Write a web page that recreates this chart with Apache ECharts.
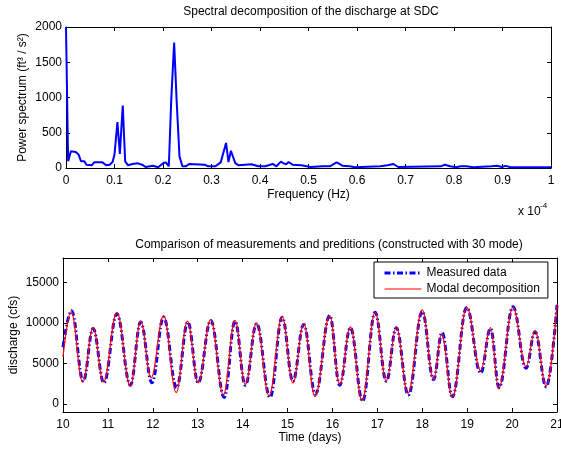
<!DOCTYPE html>
<html><head><meta charset="utf-8">
<script src="https://cdn.jsdelivr.net/npm/echarts@6/dist/echarts.min.js"></script>
<style>html,body{margin:0;padding:0;background:#fff}#c{width:561px;height:452px}</style>
</head><body><div id="c"></div>
<script>
const FONT = "'Liberation Sans', Arial, Helvetica, sans-serif";

// ---- Top panel: power spectrum ----
const freq = [0, 0.0044, 0.010, 0.020, 0.026, 0.031, 0.035, 0.038, 0.042, 0.053, 0.058, 0.075, 0.083, 0.090, 0.096, 0.100, 0.106, 0.111, 0.117, 0.122, 0.128, 0.137, 0.148, 0.157, 0.164, 0.179, 0.190, 0.201, 0.206, 0.212, 0.217, 0.223, 0.228, 0.234, 0.240, 0.247, 0.254, 0.286, 0.293, 0.308, 0.319, 0.330, 0.335, 0.340, 0.349, 0.356, 0.382, 0.397, 0.411, 0.426, 0.434, 0.443, 0.448, 0.454, 0.459, 0.467, 0.485, 0.504, 0.530, 0.544, 0.558, 0.570, 0.585, 0.596, 0.648, 0.663, 0.675, 0.685, 0.773, 0.781, 0.792, 0.804, 0.814, 0.825, 0.840, 0.877, 0.888, 0.899, 0.906, 0.917, 1.0];
const power = [2000, 95, 236, 227, 190, 95, 70, 95, 47, 38, 80, 80, 38, 47, 85, 190, 650, 200, 885, 95, 38, 57, 66, 47, 14, 33, 10, 70, 80, 24, 970, 1780, 970, 165, 24, 24, 57, 47, 24, 24, 80, 355, 85, 245, 70, 38, 52, 24, 24, 57, 24, 90, 70, 52, 85, 47, 38, 14, 24, 24, 80, 33, 24, 10, 24, 38, 57, 14, 24, 47, 24, 10, 24, 24, 10, 24, 33, 14, 30, 10, 10];
const freqTickStep = 0.1;
const powerTickStep = 500;

// ---- Bottom panel: discharge ----
const modalDays = [10.00, 10.18, 10.44, 10.67, 10.90, 11.20, 11.50, 11.73, 11.96, 12.24, 12.52, 12.77, 13.01, 13.29, 13.57, 13.83, 14.06, 14.31, 14.59, 14.88, 15.12, 15.36, 15.61, 15.94, 16.16, 16.40, 16.66, 16.95, 17.20, 17.42, 17.68, 18.00, 18.25, 18.43, 18.67, 18.99, 19.30, 19.52, 19.70, 20.02, 20.31, 20.51, 20.76, 21.00];
const modalValues = [5800, 11400, 2700, 9400, 2700, 11300, 2200, 10200, 3200, 10900, 1400, 10200, 2600, 10400, 1100, 10300, 2400, 10000, 1000, 10800, 2600, 9900, 900, 10900, 2400, 9500, 400, 11300, 2800, 9500, 1300, 11600, 3000, 8600, 800, 11900, 4100, 9400, 1900, 11900, 4600, 9000, 2200, 12300];
const measuredDays = [10.00, 10.19, 10.45, 10.67, 10.91, 11.20, 11.50, 11.73, 11.98, 12.24, 12.53, 12.78, 13.01, 13.29, 13.59, 13.83, 14.06, 14.31, 14.61, 14.88, 15.12, 15.36, 15.62, 15.94, 16.16, 16.40, 16.67, 16.95, 17.20, 17.42, 17.69, 18.00, 18.25, 18.44, 18.67, 18.99, 19.30, 19.52, 19.71, 20.02, 20.31, 20.51, 20.76, 21.00];
const measuredValues = [7000, 11500, 2800, 9300, 2600, 11100, 2300, 10100, 2600, 10700, 2000, 10100, 2600, 10300, 800, 10200, 2300, 9900, 800, 10700, 2800, 9800, 1200, 10900, 2300, 9400, 350, 11300, 2800, 9400, 1100, 11400, 3000, 8800, 900, 11900, 3800, 9300, 2000, 12000, 4400, 8900, 2100, 12200];
const dischargeTicks = [0, 5000, 10000, 15000];

const zip = (a, b) => a.map((v, i) => [v, b[i]]);
const plain = v => String(Math.round(v * 1000) / 1000);

const txt = { color: '#000', fontFamily: FONT, fontSize: 12 };
const measuredStyle = { color: '#0000ff', width: 3, type: [6, 2.5, 1.5, 2.5] };
const modalStyle = { color: '#ff0000', width: 1.2 };

function axis(o) {
  return Object.assign({
    type: 'value',
    nameMoveOverlap: false,
    axisLine: { show: true, onZero: false, lineStyle: { color: '#000', width: 1 } },
    axisTick: { show: true, inside: true, length: 4, lineStyle: { color: '#000' } },
    axisLabel: Object.assign({ show: true, margin: 7, formatter: plain }, txt),
    splitLine: { show: false },
    nameTextStyle: txt
  }, o);
}
function noLabel(a) { a.axisLabel = { show: false }; a.name = ''; return a; }

const chart = echarts.init(document.getElementById('c'), null, { renderer: 'canvas' });
chart.setOption({
  animation: false,
  backgroundColor: '#fff',
  textStyle: { fontFamily: FONT },
  grid: [
    { left: 66, top: 27, width: 485, height: 141, containLabel: false, outerBoundsMode: 'none' },
    { left: 63, top: 258, width: 494, height: 154, containLabel: false, outerBoundsMode: 'none' }
  ],
  xAxis: [
    axis({ gridIndex: 0, min: 0, max: 1, interval: freqTickStep, name: 'Frequency (Hz)', nameLocation: 'middle', nameGap: 21 }),
    noLabel(axis({ gridIndex: 0, position: 'top', min: 0, max: 1, interval: freqTickStep })),
    axis({ gridIndex: 1, min: 10, max: 21, interval: 1, name: 'Time (days)', nameLocation: 'middle', nameGap: 20 }),
    noLabel(axis({ gridIndex: 1, position: 'top', min: 10, max: 21, interval: 1 }))
  ],
  yAxis: [
    axis({ gridIndex: 0, min: 0, max: 2000, interval: powerTickStep, name: 'Power spectrum (ft³ / s²)', nameLocation: 'middle', nameGap: 37, axisLabel: Object.assign({ margin: 4, formatter: plain }, txt) }),
    noLabel(axis({ gridIndex: 0, position: 'right', min: 0, max: 2000, interval: powerTickStep })),
    axis({ gridIndex: 1, min: -1000, max: 18000, name: 'discharge (cfs)', nameLocation: 'middle', nameGap: 43,
      axisTick: { show: true, inside: true, length: 4, lineStyle: { color: '#000' }, customValues: dischargeTicks },
      axisLabel: Object.assign({ margin: 4, customValues: dischargeTicks, formatter: plain }, txt) }),
    noLabel(axis({ gridIndex: 1, position: 'right', min: -1000, max: 18000,
      axisTick: { show: true, inside: true, length: 4, lineStyle: { color: '#000' }, customValues: dischargeTicks } }))
  ],
  legend: {
    orient: 'vertical', left: 374, top: 262,
    padding: [5, 8, 3, 9], itemGap: 4, itemWidth: 37, itemHeight: 14,
    backgroundColor: '#fff', borderColor: '#000', borderWidth: 1, borderRadius: 0,
    textStyle: txt,
    itemStyle: { opacity: 0 },
    data: [
      { name: 'Measured data', lineStyle: measuredStyle, itemStyle: { opacity: 0 } },
      { name: 'Modal decomposition', lineStyle: modalStyle, itemStyle: { opacity: 0 } }
    ]
  },
  series: [
    { type: 'line', name: 'Power spectrum', xAxisIndex: 0, yAxisIndex: 0, data: zip(freq, power), showSymbol: false, symbol: 'none',
      lineStyle: { color: '#0000ff', width: 2 }, clip: true },
    { type: 'line', name: 'Measured data', xAxisIndex: 2, yAxisIndex: 2, data: zip(measuredDays, measuredValues), symbol: 'none',
      smooth: 0.4, smoothMonotone: 'x', itemStyle: { color: '#0000ff' },
      lineStyle: measuredStyle, clip: true },
    { type: 'line', name: 'Modal decomposition', xAxisIndex: 2, yAxisIndex: 2, data: zip(modalDays, modalValues), symbol: 'none',
      smooth: 0.4, smoothMonotone: 'x', itemStyle: { color: '#ff0000' },
      lineStyle: modalStyle, clip: true }
  ],
  graphic: [
    { type: 'text', x: 311, y: 12, style: { text: 'Spectral decomposition of the discharge at SDC', align: 'center', verticalAlign: 'middle', font: '12px ' + FONT, fill: '#000' } },
    { type: 'text', x: 329, y: 245, style: { text: 'Comparison of measurements and preditions (constructed with 30 mode)', align: 'center', verticalAlign: 'middle', font: '12px ' + FONT, fill: '#000' } },
    { type: 'text', x: 518, y: 212, style: { text: 'x 10', align: 'left', verticalAlign: 'middle', font: '12px ' + FONT, fill: '#000' } },
    { type: 'text', x: 540, y: 206, style: { text: '-4', align: 'left', verticalAlign: 'middle', font: '8px ' + FONT, fill: '#000' } }
  ]
});
</script></body></html>
